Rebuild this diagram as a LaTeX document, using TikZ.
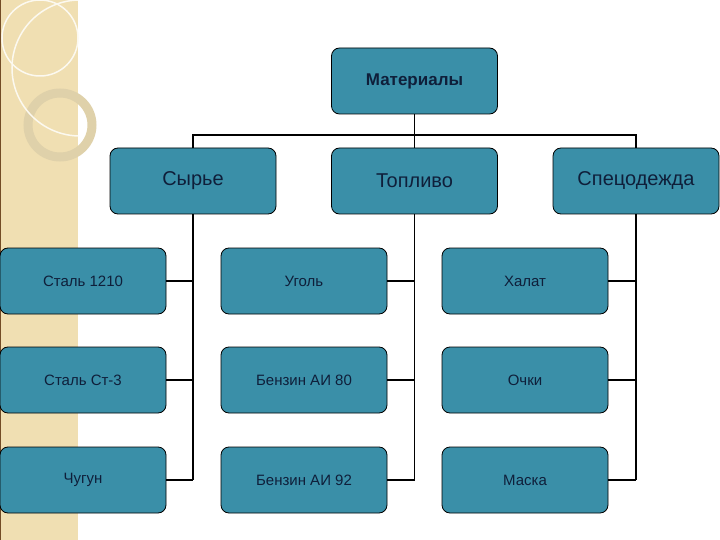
\documentclass[tikz,border=0pt]{standalone}
\usepackage{fontspec}
\setmainfont{Liberation Sans}
\definecolor{boxfill}{HTML}{3A8FA8}
\definecolor{txt}{HTML}{0F1F3A}
\definecolor{strip}{HTML}{F0DFB2}
\begin{document}
\begin{tikzpicture}[x=1pt,y=-1pt,
  box/.style={draw=black,line width=0.8pt,fill=boxfill,rounded corners=8pt,minimum width=166pt,minimum height=66pt,text=txt,inner sep=0pt},
  big/.style={box,font=\fontsize{20}{24}\selectfont},
  small/.style={box,font=\fontsize{15}{18}\selectfont},
  link/.style={draw=black,line width=1.6pt}]
\useasboundingbox (0,0) rectangle (720,540);
\fill[white] (0,0) rectangle (720,540);
\fill[strip] (0,0) rectangle (78,540);
\draw[brown!60!black,line width=1pt] (0.5,0) -- (0.5,540);
\draw[white!80!strip,line width=1.5pt] (40,38) circle (38);
\draw[strip!85!gray,line width=9pt] (60,125) circle (32);
\begin{scope}
\clip (0,0) rectangle (78,540);
\draw[white!80!strip,line width=1.5pt] (80,68) circle (68);
\end{scope}
\node[box,font=\fontsize{17}{20}\selectfont\bfseries] (m) at (414.5,81) {Материалы};
\node[big] (s) at (193,181) {Сырье};
\node[big] (t) at (414.5,181) {Топливо};
\node[big] (c) at (636,181) {Спецодежда};
\node[small] (s1) at (83,281) {Сталь 1210};
\node[small] (s2) at (83,380) {Сталь Ст-3};
\node[small] (s3) at (83,480) {Чугун};
\node[small] (t1) at (304,281) {Уголь};
\node[small] (t2) at (304,380) {Бензин АИ 80};
\node[small] (t3) at (304,480) {Бензин АИ 92};
\node[small] (c1) at (525,281) {Халат};
\node[small] (c2) at (525,380) {Очки};
\node[small] (c3) at (525,480) {Маска};
\coordinate (bar) at (414.5,135);
\draw[link] (m.south) -- (bar);
\draw[link] (s.north) |- (bar) -| (c.north);
\draw[link] (t.north) -- (bar);
\draw[link] (s.south) -- (s3.east -| s.south);
\draw[link] (t.south) -- (t3.east -| t.south);
\draw[link] (c.south) -- (c3.east -| c.south);
\foreach \a/\b in {s1/s,s2/s,s3/s,t1/t,t2/t,t3/t,c1/c,c2/c,c3/c}
  \draw[link] (\a.east) -- (\a.east -| \b.south);
\end{tikzpicture}
\end{document}
